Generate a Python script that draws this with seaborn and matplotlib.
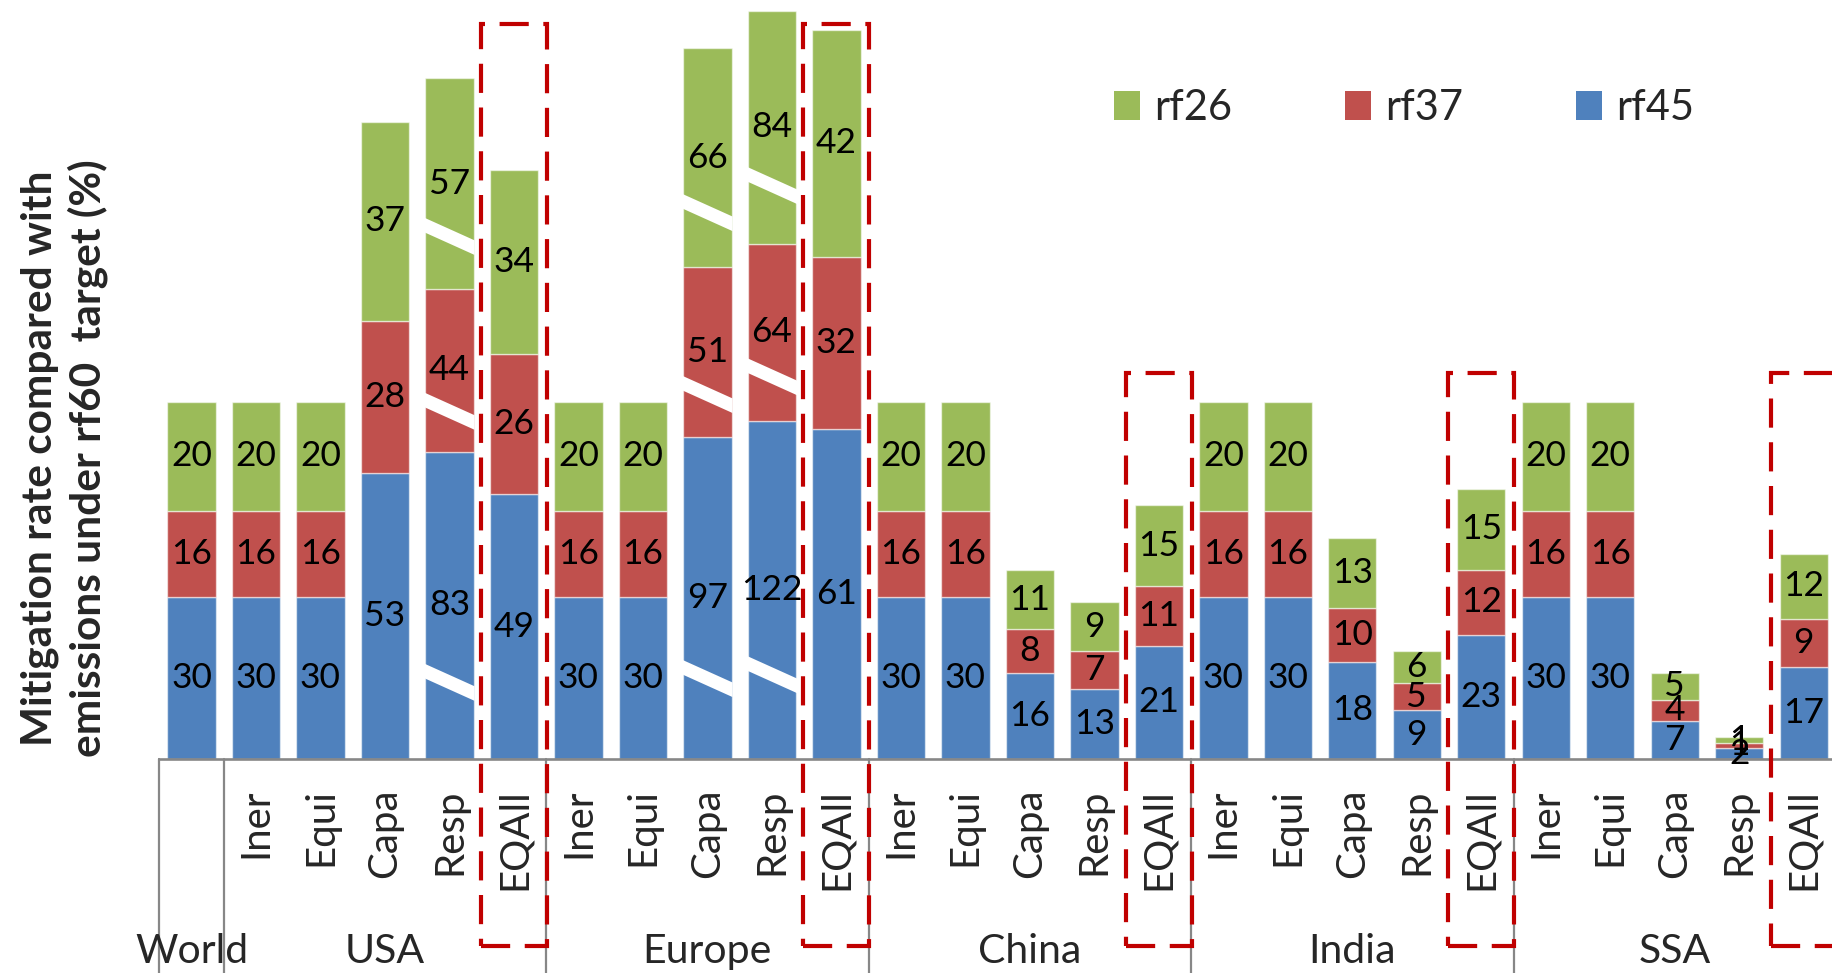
import numpy as np
import pandas as pd
import matplotlib
matplotlib.use("Agg")
import matplotlib.pyplot as plt
from matplotlib.patches import Patch, Rectangle, Polygon
import seaborn as sns

# ---- data -------------------------------------------------------------
regions = ["World", "USA", "Europe", "China", "India", "SSA"]
schemes = ["Iner", "Equi", "Capa", "Resp", "EQAll"]

rf45 = [30, 30, 30, 53, 83, 49, 30, 30, 97, 122, 61, 30, 30, 16, 13, 21,
        30, 30, 18, 9, 23, 30, 30, 7, 2, 17]
rf37 = [16, 16, 16, 28, 44, 26, 16, 16, 51, 64, 32, 16, 16, 8, 7, 11,
        16, 16, 10, 5, 12, 16, 16, 4, 1, 9]
rf26 = [20, 20, 20, 37, 57, 34, 20, 20, 66, 84, 42, 20, 20, 11, 9, 15,
        20, 20, 13, 6, 15, 20, 20, 5, 1, 12]

# bars drawn on a compressed (broken) scale, marked with white slashes
broken_scale = {"USA|Resp": 0.685, "Europe|Capa": 0.615, "Europe|Resp": 0.513}

series_names = ["rf45", "rf37", "rf26"]
series_values = [rf45, rf37, rf26]
series_colors = ["#4F81BD", "#C0504D", "#9BBB59"]

# ---- derived bar table --------------------------------------------------
keys = ["World|"]
tick_labels = [""]
group_of_bar = ["World"]
for r in regions[1:]:
    for s in schemes:
        keys.append(f"{r}|{s}")
        tick_labels.append(s)
        group_of_bar.append(r)
n = len(keys)
scale = np.array([broken_scale.get(k, 1.0) for k in keys])

# ---- style --------------------------------------------------------------
sns.set_style("white")
plt.rcParams["font.family"] = ["Lato", "DejaVu Sans"]

W, H = 1832, 973
fig = plt.figure(figsize=(W / 100, H / 100), dpi=100)
ax_left, ax_right, ax_bottom, ax_top = 159.2, 1836.0, 214.0, 973.0
ax = fig.add_axes([ax_left / W, ax_bottom / H, (ax_right - ax_left) / W,
                   (ax_top - ax_bottom) / H])

ymax = 140.5
bottom = np.zeros(n)
segments = []
for name, vals, col in zip(series_names, series_values, series_colors):
    vals = np.asarray(vals, dtype=float)
    heights = vals * scale
    df = pd.DataFrame({"bar": keys, "h": heights})
    sns.barplot(data=df, x="bar", y="h", order=keys, color=col, width=0.75,
                bottom=bottom.copy(), saturation=1, ax=ax,
                edgecolor=(1, 1, 1, 0.55), linewidth=1.0, zorder=2)
    segments.append((vals, bottom.copy(), heights))
    bottom = bottom + heights

# value labels, centred in each segment
for vals, bots, hts in segments:
    for i in range(n):
        ax.text(i, bots[i] + hts[i] / 2, f"{int(vals[i])}", ha="center",
                va="center", fontsize=25.5, color="black", zorder=5)

# white slashes across broken bars
for i, k in enumerate(keys):
    if k not in broken_scale:
        continue
    for vals, bots, hts in segments:
        yc = bots[i] + 0.25 * hts[i]
        xl, xr = i - 0.39, i + 0.39
        drop, half = 2.1, 1.35
        poly = Polygon([(xl, yc + drop + half), (xr, yc - drop + half),
                        (xr, yc - drop - half), (xl, yc + drop - half)],
                       closed=True, facecolor="white", edgecolor="none",
                       zorder=3)
        ax.add_patch(poly)

ax.set_xlim(-0.5, n - 0.5)
ax.set_ylim(0, ymax)
ax.set_ylabel("")
ax.set_xlabel("")
ax.set_yticks([])
for side in ["left", "right", "top"]:
    ax.spines[side].set_visible(False)
ax.spines["bottom"].set_color("#878787")
ax.spines["bottom"].set_linewidth(1.9)

# inner category labels
ax.set_xticks(range(n))
ax.set_xticklabels(tick_labels, rotation=90, fontsize=29)
ax.tick_params(axis="x", length=0, pad=21)

# group separators and group names below the axis
trans = ax.get_xaxis_transform()
sep_bottom = -ax_bottom / (ax_top - ax_bottom)
group_edges = [-0.5]
pos = 0
for r in regions:
    cnt = group_of_bar.count(r)
    pos += cnt
    group_edges.append(pos - 0.5)
for xe in group_edges:
    ax.plot([xe, xe], [0, sep_bottom], transform=trans, color="#878787",
            lw=1.6, clip_on=False, zorder=1)
label_y = -(963 - 759) / (ax_top - ax_bottom)
for r, a, b in zip(regions, group_edges[:-1], group_edges[1:]):
    ax.text((a + b) / 2, label_y, r, transform=trans, ha="center",
            va="baseline", fontsize=29.5, clip_on=False)

# dashed boxes highlighting the EQAll allocation
box_bottom = -(946 - 759) / 5.4
for i, k in enumerate(keys):
    if not k.endswith("|EQAll"):
        continue
    top = 136 if k.split("|")[0] in ("USA", "Europe") else 71.5
    rect = Rectangle((i - 0.51, box_bottom), 1.02, top - box_bottom,
                     fill=False, edgecolor="#C00000", lw=3.0,
                     linestyle=(0, (7, 3.5)), clip_on=False, zorder=6)
    ax.add_patch(rect)

# legend
handles = [Patch(facecolor=c, edgecolor="none", label=nm)
           for nm, c in zip(series_names[::-1], series_colors[::-1])]
fig.legend(handles=handles, loc="center left",
           bbox_to_anchor=(1114 / W, 1 - 108 / H), ncol=3, frameon=False,
           fontsize=30, handlelength=0.63, handleheight=0.7,
           handletextpad=0.34, columnspacing=2.7, borderpad=0,
           borderaxespad=0)

# y-axis title
fig.text(64 / W, 1 - 458 / H,
         "Mitigation rate compared with\nemissions under rf60  target (%)",
         rotation=90, ha="center", va="center", fontsize=30.5,
         fontweight="bold", linespacing=1.25, multialignment="center")

fig.savefig("out.png", dpi=100)
